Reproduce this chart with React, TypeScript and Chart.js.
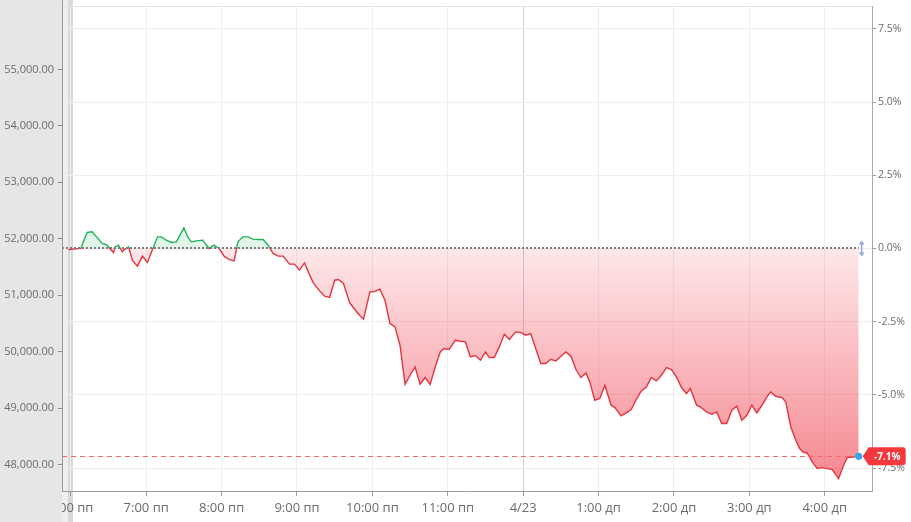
import React, { useEffect, useRef } from "react";
import { Chart, registerables } from "chart.js";

Chart.register(...registerables);

// ---- data ----
const BASE_PRICE = 51830; // 0.0% reference price
const Y_MIN = 47536;
const Y_MAX = 56122;
const X_MIN = -7; // minutes relative to 6:00 пп
const X_MAX = 637.6;

// minutes since 6:00 пп
const TIME_MIN = [
  -2, 8, 10, 13, 17, 20, 25, 29, 31, 34,
  35, 38, 41, 42, 46, 49, 53, 57, 61, 65,
  69, 72, 76, 80, 84, 86, 90, 93, 96, 100,
  105, 107, 110, 114, 118, 122, 126, 130, 133, 137,
  141, 145, 149, 153, 157, 161, 165, 169, 174, 178,
  182, 186, 189, 193, 198, 202, 206, 210, 213, 217,
  222, 226, 230, 233, 238, 241, 246, 250, 254, 258,
  262, 266, 270, 274, 278, 282, 286, 290, 294, 297,
  301, 306, 310, 314, 318, 322, 326, 330, 333, 337,
  341, 345, 349, 354, 358, 362, 366, 370, 374, 378,
  382, 386, 390, 394, 398, 402, 406, 410, 413, 417,
  421, 425, 430, 433, 438, 442, 446, 450, 454, 458,
  462, 466, 470, 474, 478, 482, 486, 490, 493, 498,
  501, 506, 510, 514, 518, 522, 526, 530, 534, 538,
  542, 546, 550, 554, 557, 561, 566, 569, 573, 577,
  580, 583, 586, 590, 594, 598, 602, 606, 611, 615,
  618, 622, 627,
];

const PRICES = [
  51812, 51830, 51947, 52113, 52124, 52048, 51919, 51888, 51830, 51759,
  51853, 51888, 51770, 51800, 51858, 51623, 51516, 51694, 51582, 51812,
  52035, 52035, 51977, 51936, 51947, 52030, 52195, 52035, 51947, 51965,
  51977, 51919, 51830, 51888, 51830, 51694, 51635, 51610, 51947, 52035,
  52035, 51995, 51989, 51989, 51888, 51741, 51694, 51694, 51552, 51552,
  51446, 51575, 51415, 51220, 51079, 50985, 50962, 51268, 51281, 51210,
  50866, 50749, 50643, 50578, 51061, 51061, 51109, 50914, 50501, 50441,
  50117, 49426, 49585, 49732, 49426, 49545, 49421, 49732, 49998, 50058,
  50041, 50205, 50188, 50175, 49910, 49934, 49851, 49998, 49899, 49899,
  50087, 50312, 50218, 50353, 50342, 50294, 50324, 50058, 49793, 49793,
  49869, 49839, 49922, 49998, 49922, 49686, 49545, 49626, 49467, 49143,
  49173, 49408, 49054, 49013, 48865, 48918, 48978, 49155, 49307, 49378,
  49545, 49485, 49585, 49722, 49686, 49555, 49368, 49261, 49350, 49054,
  49024, 48935, 48894, 48935, 48730, 48730, 48965, 49036, 48788, 48877,
  49054, 48918, 49054, 49201, 49290, 49213, 49190, 49112, 48670, 48434,
  48287, 48221, 48209, 48050, 47933, 47950, 47933, 47915, 47756, 47991,
  48128, 48138, 48150,
];

const X_TICK_VALUES = [0, 60, 120, 180, 240, 300, 360, 420, 480, 540, 600];
const X_TICK_LABELS = [
  "6:00 пп", "7:00 пп", "8:00 пп", "9:00 пп", "10:00 пп", "11:00 пп",
  "4/23", "1:00 дп", "2:00 дп", "3:00 дп", "4:00 дп",
];
const DATE_TICK_VALUE = 360;
const LEFT_TICKS = [48000, 49000, 50000, 51000, 52000, 53000, 54000, 55000];
const RIGHT_TICKS = [-7.5, -5, -2.5, 0, 2.5, 5, 7.5];

// ---- styles ----
const GREEN = "#1fb25a";
const RED = "#e5333d";
const GREEN_FILL = "rgba(31,178,90,0.13)";
const RED_FILL_TOP = "rgba(242,60,75,0.12)";
const RED_FILL_BOTTOM = "rgba(238,55,70,0.62)";
const LABEL = "#6b6b6b";
const FONT = "'Open Sans', 'Noto Sans', sans-serif";

const pct = (p: number) => (p / BASE_PRICE - 1) * 100;

function splitGradient(chart: any, topA: string, topB: string, botA: string, botB: string) {
  const { chartArea, scales, ctx } = chart;
  if (!chartArea) return botA;
  const y0 = scales.y.getPixelForValue(BASE_PRICE);
  const f = Math.min(1, Math.max(0, (y0 - chartArea.top) / (chartArea.bottom - chartArea.top)));
  const g = ctx.createLinearGradient(0, chartArea.top, 0, chartArea.bottom);
  g.addColorStop(0, topA);
  g.addColorStop(f, topB);
  g.addColorStop(f, botA);
  g.addColorStop(1, botB);
  return g;
}

const decorPlugin = {
  id: "decor",
  beforeDraw(chart: any) {
    const { ctx, height } = chart;
    ctx.save();
    ctx.fillStyle = "#eeeeee";
    ctx.fillRect(62, 0, 6, height);
    ctx.fillStyle = "#d9d9d9";
    ctx.fillRect(68, 0, 5, height);
    ctx.restore();
  },
  beforeDatasetsDraw(chart: any) {
    const { ctx, height } = chart;
    ctx.save();
    ctx.fillStyle = "#e6e6e6";
    ctx.fillRect(0, 0, 62, height);
    ctx.restore();
  },
  afterDatasetsDraw(chart: any) {
    const { ctx, chartArea, scales } = chart;
    const xs = scales.x;
    const ys = scales.y;
    const n = TIME_MIN.length;
    const lastX = xs.getPixelForValue(TIME_MIN[n - 1]);
    const lastP = PRICES[n - 1];
    const yc = ys.getPixelForValue(lastP);
    const y0 = ys.getPixelForValue(BASE_PRICE);
    ctx.save();
    // top border
    ctx.strokeStyle = "#e3e3e3";
    ctx.lineWidth = 1;
    ctx.beginPath();
    ctx.moveTo(chartArea.left, chartArea.top + 0.5);
    ctx.lineTo(chartArea.right, chartArea.top + 0.5);
    ctx.stroke();
    // left border extension above the chart area
    ctx.strokeStyle = "#9a9a9a";
    ctx.beginPath();
    ctx.moveTo(chartArea.left + 0.5, 0);
    ctx.lineTo(chartArea.left + 0.5, chartArea.top);
    ctx.stroke();
    // baseline dotted
    ctx.strokeStyle = "#7d7d7d";
    ctx.lineWidth = 2;
    ctx.setLineDash([2, 2]);
    ctx.beginPath();
    ctx.moveTo(chartArea.left, Math.round(y0));
    ctx.lineTo(lastX, Math.round(y0));
    ctx.stroke();
    // current price dashed
    ctx.strokeStyle = "#f26a6a";
    ctx.lineWidth = 1;
    ctx.setLineDash([5, 4]);
    ctx.beginPath();
    ctx.moveTo(chartArea.left, Math.round(yc) + 0.5);
    ctx.lineTo(lastX, Math.round(yc) + 0.5);
    ctx.stroke();
    ctx.setLineDash([]);
    // up/down icon
    const ix = lastX + 3;
    ctx.strokeStyle = "#94a9d6";
    ctx.fillStyle = "#94a9d6";
    ctx.lineWidth = 1.5;
    ctx.beginPath();
    ctx.moveTo(ix, y0 - 5);
    ctx.lineTo(ix, y0 + 5);
    ctx.stroke();
    ctx.beginPath();
    ctx.moveTo(ix - 3, y0 - 4);
    ctx.lineTo(ix, y0 - 8);
    ctx.lineTo(ix + 3, y0 - 4);
    ctx.closePath();
    ctx.fill();
    ctx.beginPath();
    ctx.moveTo(ix - 3, y0 + 4);
    ctx.lineTo(ix, y0 + 8);
    ctx.lineTo(ix + 3, y0 + 4);
    ctx.closePath();
    ctx.fill();
    // tag
    const tx = lastX + 4;
    const h = 18, w = 37, tip = 6, r = 3;
    ctx.fillStyle = "#f4383c";
    ctx.beginPath();
    ctx.moveTo(tx, yc);
    ctx.lineTo(tx + tip, yc - h / 2);
    ctx.lineTo(tx + tip + w - r, yc - h / 2);
    ctx.quadraticCurveTo(tx + tip + w, yc - h / 2, tx + tip + w, yc - h / 2 + r);
    ctx.lineTo(tx + tip + w, yc + h / 2 - r);
    ctx.quadraticCurveTo(tx + tip + w, yc + h / 2, tx + tip + w - r, yc + h / 2);
    ctx.lineTo(tx + tip, yc + h / 2);
    ctx.closePath();
    ctx.fill();
    ctx.fillStyle = "#ffffff";
    ctx.font = `bold 10px ${FONT}`;
    ctx.textAlign = "center";
    ctx.textBaseline = "middle";
    ctx.fillText(`${pct(lastP).toFixed(1)}%`, tx + tip + w / 2, yc + 0.5);
    // blue dot
    ctx.fillStyle = "#2aa7ef";
    ctx.beginPath();
    ctx.arc(lastX, yc, 3.6, 0, Math.PI * 2);
    ctx.fill();
    ctx.restore();
  },
};

export default function App() {
  const canvasRef = useRef<HTMLCanvasElement | null>(null);

  useEffect(() => {
    document.body.style.margin = "0";
    const canvas = canvasRef.current;
    if (!canvas) return;
    Chart.defaults.font.family = FONT;

    const chart = new Chart(canvas, {
      type: "line",
      data: {
        datasets: [
          {
            data: TIME_MIN.map((t, i) => ({ x: t, y: PRICES[i] })),
            borderWidth: 1.4,
            pointRadius: 0,
            tension: 0,
            borderColor: (c: any) => splitGradient(c.chart, GREEN, GREEN, RED, RED),
            backgroundColor: (c: any) =>
              splitGradient(c.chart, GREEN_FILL, GREEN_FILL, RED_FILL_TOP, RED_FILL_BOTTOM),
            fill: { value: BASE_PRICE },
          } as any,
        ],
      },
      options: {
        responsive: false,
        animation: false,
        layout: { padding: { top: 6, left: 0, right: 0, bottom: 0 } },
        plugins: {
          legend: { display: false },
          tooltip: { enabled: false },
        },
        scales: {
          x: {
            type: "linear",
            min: X_MIN,
            max: X_MAX,
            afterBuildTicks: (s: any) => {
              s.ticks = X_TICK_VALUES.map((v) => ({ value: v }));
            },
            afterFit: (s: any) => {
              s.height = 31;
              s.paddingLeft = 0;
              s.paddingRight = 0;
            },
            ticks: {
              autoSkip: false,
              maxRotation: 0,
              minRotation: 0,
              padding: 4,
              color: LABEL,
              font: { size: 13 },
              callback: (_v: any, i: number) => X_TICK_LABELS[i],
            },
            grid: {
              color: (c: any) =>
                c.tick && c.tick.value === DATE_TICK_VALUE ? "#cfcfcf" : "#eeeeee",
              tickColor: "#9a9a9a",
              tickLength: 5,
            },
            border: { color: "#9a9a9a" },
          },
          y: {
            type: "linear",
            position: "left",
            min: Y_MIN,
            max: Y_MAX,
            afterBuildTicks: (s: any) => {
              s.ticks = LEFT_TICKS.map((v) => ({ value: v }));
            },
            afterFit: (s: any) => {
              s.width = 62;
              s.paddingTop = 0;
              s.paddingBottom = 0;
            },
            ticks: {
              z: 1,
              padding: 4,
              color: LABEL,
              font: { size: 11 },
              callback: (v: any) =>
                Number(v).toLocaleString("en-US", {
                  minimumFractionDigits: 2,
                  maximumFractionDigits: 2,
                }),
            },
            grid: {
              z: 1,
              drawOnChartArea: false,
              tickLength: 4,
              color: "#8a8a8a",
            },
            border: { z: 1, color: "#9a9a9a" },
          },
          y1: {
            type: "linear",
            position: "right",
            min: pct(Y_MIN),
            max: pct(Y_MAX),
            afterBuildTicks: (s: any) => {
              s.ticks = RIGHT_TICKS.map((v) => ({ value: v }));
            },
            afterFit: (s: any) => {
              s.width = 39;
              s.paddingTop = 0;
              s.paddingBottom = 0;
            },
            ticks: {
              padding: 2,
              color: LABEL,
              font: { size: 10.5 },
              callback: (v: any) => `${Number(v).toFixed(1)}%`,
            },
            grid: {
              color: "#eeeeee",
              tickColor: "#9a9a9a",
              tickLength: 4,
            },
            border: { color: "#a8a8a8" },
          },
        },
      },
      plugins: [decorPlugin],
    } as any);

    return () => chart.destroy();
  }, []);

  return (
    <div style={{ width: 911, height: 522, position: "relative" }}>
      <canvas ref={canvasRef} width={911} height={522} style={{ display: "block" }} />
    </div>
  );
}
